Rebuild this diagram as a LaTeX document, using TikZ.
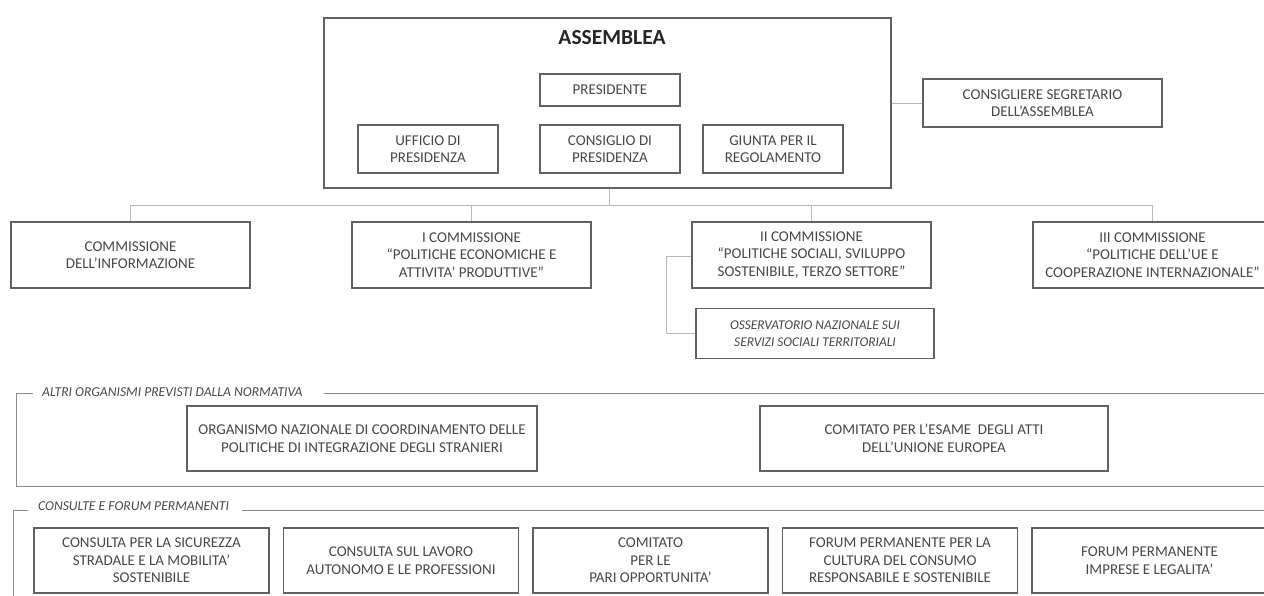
\documentclass[tikz,border=0pt]{standalone}
\usepackage{fontspec}
\setmainfont{Carlito}
\begin{document}
\begin{tikzpicture}[x=1pt,y=-1pt,
  txt/.style={text=black!72, font=\fontsize{15}{17.5}\selectfont, align=center},
  obox/.style={draw=black!62, line width=1.6pt, txt, inner sep=0pt},
  conn/.style={draw=black!28, line width=0.9pt},
  frame/.style={draw=black!45, line width=1pt},
  flabel/.style={text=black!72, font=\fontsize{13.6}{15}\selectfont\itshape, anchor=west, inner sep=0pt}
]
\useasboundingbox (0,0) rectangle (1264,596);
% Assemblea
\node[obox, minimum width=567pt, minimum height=170pt] (asm) at (607.5,103) {};
\node[text=black!85, font=\fontsize{21.5}{24}\selectfont\bfseries, inner sep=0pt] (asmt) at (612,38) {ASSEMBLEA};
\node[obox, minimum width=140pt, minimum height=32pt] (pres) at (610,90) {PRESIDENTE};
\node[obox, minimum width=140pt, minimum height=48pt] (uff) at (428,149) {UFFICIO DI\\PRESIDENZA};
\node[obox, minimum width=140pt, minimum height=48pt] (cons) at (610,149) {CONSIGLIO DI\\PRESIDENZA};
\node[obox, minimum width=140pt, minimum height=48pt] (giu) at (773,149) {GIUNTA PER IL\\REGOLAMENTO};
\node[obox, minimum width=239pt, minimum height=48pt] (seg) at (1042.5,103) {CONSIGLIERE SEGRETARIO\\DELL’ASSEMBLEA};
% Commissions
\node[obox, minimum width=239pt, minimum height=66pt] (c0) at (130.5,255) {COMMISSIONE\\DELL’INFORMAZIONE};
\node[obox, minimum width=239pt, minimum height=66pt] (c1) at (471.5,255) {I COMMISSIONE\\“POLITICHE ECONOMICHE E\\ATTIVITA’ PRODUTTIVE”};
\node[obox, minimum width=239pt, minimum height=66pt] (c2) at (811.5,255) {II COMMISSIONE\\“POLITICHE SOCIALI, SVILUPPO\\SOSTENIBILE, TERZO SETTORE”};
\node[obox, minimum width=239pt, minimum height=66pt] (c3) at (1152.5,255) {III COMMISSIONE\\“POLITICHE DELL’UE E\\COOPERAZIONE INTERNAZIONALE”};
\node[obox, minimum width=238pt, minimum height=50pt, font=\fontsize{13.4}{17.5}\selectfont\itshape] (oss) at (815,333.5) {OSSERVATORIO NAZIONALE SUI\\SERVIZI SOCIALI TERRITORIALI};
% connectors
\coordinate (bus) at (609,205);
\draw[conn] (asm.south -| bus) -- (bus);
\draw[conn] (c0.north) |- (c3.north |- bus) -- (c3.north);
\draw[conn] (c1.north |- bus) -- (c1.north);
\draw[conn] (c2.north |- bus) -- (c2.north);
\draw[conn] (asm.east |- seg.west) -- (seg.west);
\coordinate (ossbend) at (666,256);
\draw[conn] (c2.west |- ossbend) -- (ossbend) |- (oss.west);
% Frame 1
\node[flabel] (lab1) at (42,392) {ALTRI ORGANISMI PREVISTI DALLA NORMATIVA};
\draw[frame] (33,393) -- (16,393) -- (16,486) -- (1270,486);
\draw[frame] (324,393) -- (1270,393);
\node[obox, minimum width=350pt, minimum height=65pt] (org) at (362,438.5) {ORGANISMO NAZIONALE DI COORDINAMENTO DELLE\\POLITICHE DI INTEGRAZIONE DEGLI STRANIERI};
\node[obox, minimum width=348pt, minimum height=65pt] (com) at (934,438.5) {COMITATO PER L’ESAME\ \ DEGLI ATTI\\DELL’UNIONE EUROPEA};
% Frame 2
\node[flabel] (lab2) at (38,506) {CONSULTE E FORUM PERMANENTI};
\draw[frame] (28,510) -- (13,510) -- (13,600);
\draw[frame] (242,510) -- (1270,510);
\node[obox, minimum width=235pt, minimum height=65pt] (b1) at (151.5,560.5) {CONSULTA PER LA SICUREZZA\\STRADALE E LA MOBILITA’\\SOSTENIBILE};
\node[obox, minimum width=235pt, minimum height=65pt] (b2) at (401,560.5) {CONSULTA SUL LAVORO\\AUTONOMO E LE PROFESSIONI};
\node[obox, minimum width=235pt, minimum height=65pt] (b3) at (650.5,560.5) {COMITATO\\PER LE\\PARI OPPORTUNITA’};
\node[obox, minimum width=235pt, minimum height=65pt] (b4) at (900,560.5) {FORUM PERMANENTE PER LA\\CULTURA DEL CONSUMO\\RESPONSABILE E SOSTENIBILE};
\node[obox, minimum width=235pt, minimum height=65pt] (b5) at (1149.5,560.5) {FORUM PERMANENTE\\IMPRESE E LEGALITA’};
\end{tikzpicture}
\end{document}
